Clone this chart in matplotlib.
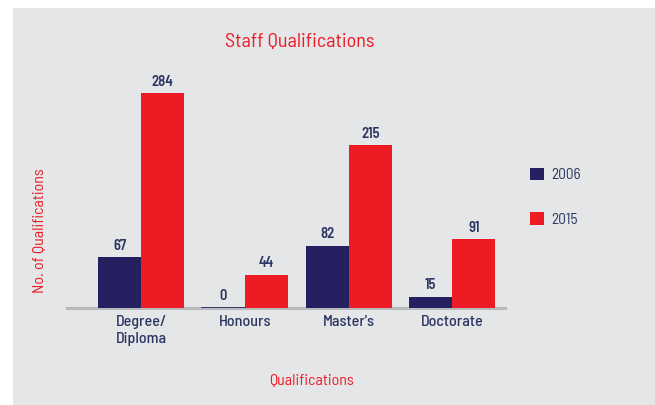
import matplotlib.pyplot as plt
from matplotlib.patches import Patch, Rectangle
import numpy as np

categories = ["Degree/\nDiploma", "Honours", "Master's", "Doctorate"]
years = ["2006", "2015"]
vals_2006 = [67, 0, 82, 15]
vals_2015 = [284, 44, 215, 91]

navy = "#252060"
red = "#ed1c24"
label_col = "#2b3461"
panel = "#e5e6e8"

plt.rcParams["font.family"] = ["Barlow Semi Condensed", "DejaVu Sans"]

fig = plt.figure(figsize=(6.55, 4.05), dpi=100, facecolor="white")
# grey panel behind the chart
fig.patches.append(Rectangle((13 / 655, 0), 1, 1 - 8 / 405, transform=fig.transFigure,
                             facecolor=panel, edgecolor="none", zorder=-5))

ax = fig.add_axes([67 / 655, 1 - 308 / 405, (505 - 67) / 655, 248 / 405])
ax.set_facecolor("none")

x = np.arange(len(categories))
w = 0.415
b1 = ax.bar(x - w / 2, vals_2006, w, color=navy, label=years[0], zorder=2)
b2 = ax.bar(x + w / 2, vals_2015, w, color=red, label=years[1], zorder=2)
# zero bar shown as a thin line
for rect, v in zip(b1, vals_2006):
    if v == 0:
        ax.plot([rect.get_x(), rect.get_x() + w], [0.6, 0.6], color=navy, lw=1.2, zorder=3)

for bars, vals in [(b1, vals_2006), (b2, vals_2015)]:
    for rect, v in zip(bars, vals):
        ax.text(rect.get_x() + w / 2, v + 6, str(v), ha="center", va="bottom",
                fontsize=10.5, fontweight="semibold", color=label_col)

ax.set_xlim(-0.716, 3.508)
ax.set_ylim(0, 328)
for s in ["top", "right", "left"]:
    ax.spines[s].set_visible(False)
ax.spines["bottom"].set_color("#b8b9bb")
ax.spines["bottom"].set_linewidth(2.2)
ax.spines["bottom"].set_zorder(1)
ax.set_yticks([])
ax.set_xticks(x)
ax.set_xticklabels(categories, fontsize=11.5, fontweight="medium", color=label_col,
                   linespacing=1.25)
ax.tick_params(axis="x", length=0, pad=5)

fig.text(300 / 655, 1 - 42 / 405, "Staff Qualifications", ha="center", va="center",
         fontsize=14.5, color=red)
fig.text(312 / 655, 1 - 381 / 405, "Qualifications", ha="center", va="center",
         fontsize=11.5, color=red)
fig.text(40 / 655, 1 - 231 / 405, "No. of Qualifications", ha="center", va="center",
         rotation=90, fontsize=11.5, color=red)

handles = [Patch(facecolor=navy, label=years[0]), Patch(facecolor=red, label=years[1])]
fig.legend(handles=handles, loc="upper left", bbox_to_anchor=(516 / 655, 1 - 154 / 405),
           frameon=False, fontsize=11, handlelength=0.9, handleheight=0.9,
           labelspacing=1.95, handletextpad=0.5, labelcolor=label_col)

fig.savefig("out.png", dpi=100, facecolor="white")
